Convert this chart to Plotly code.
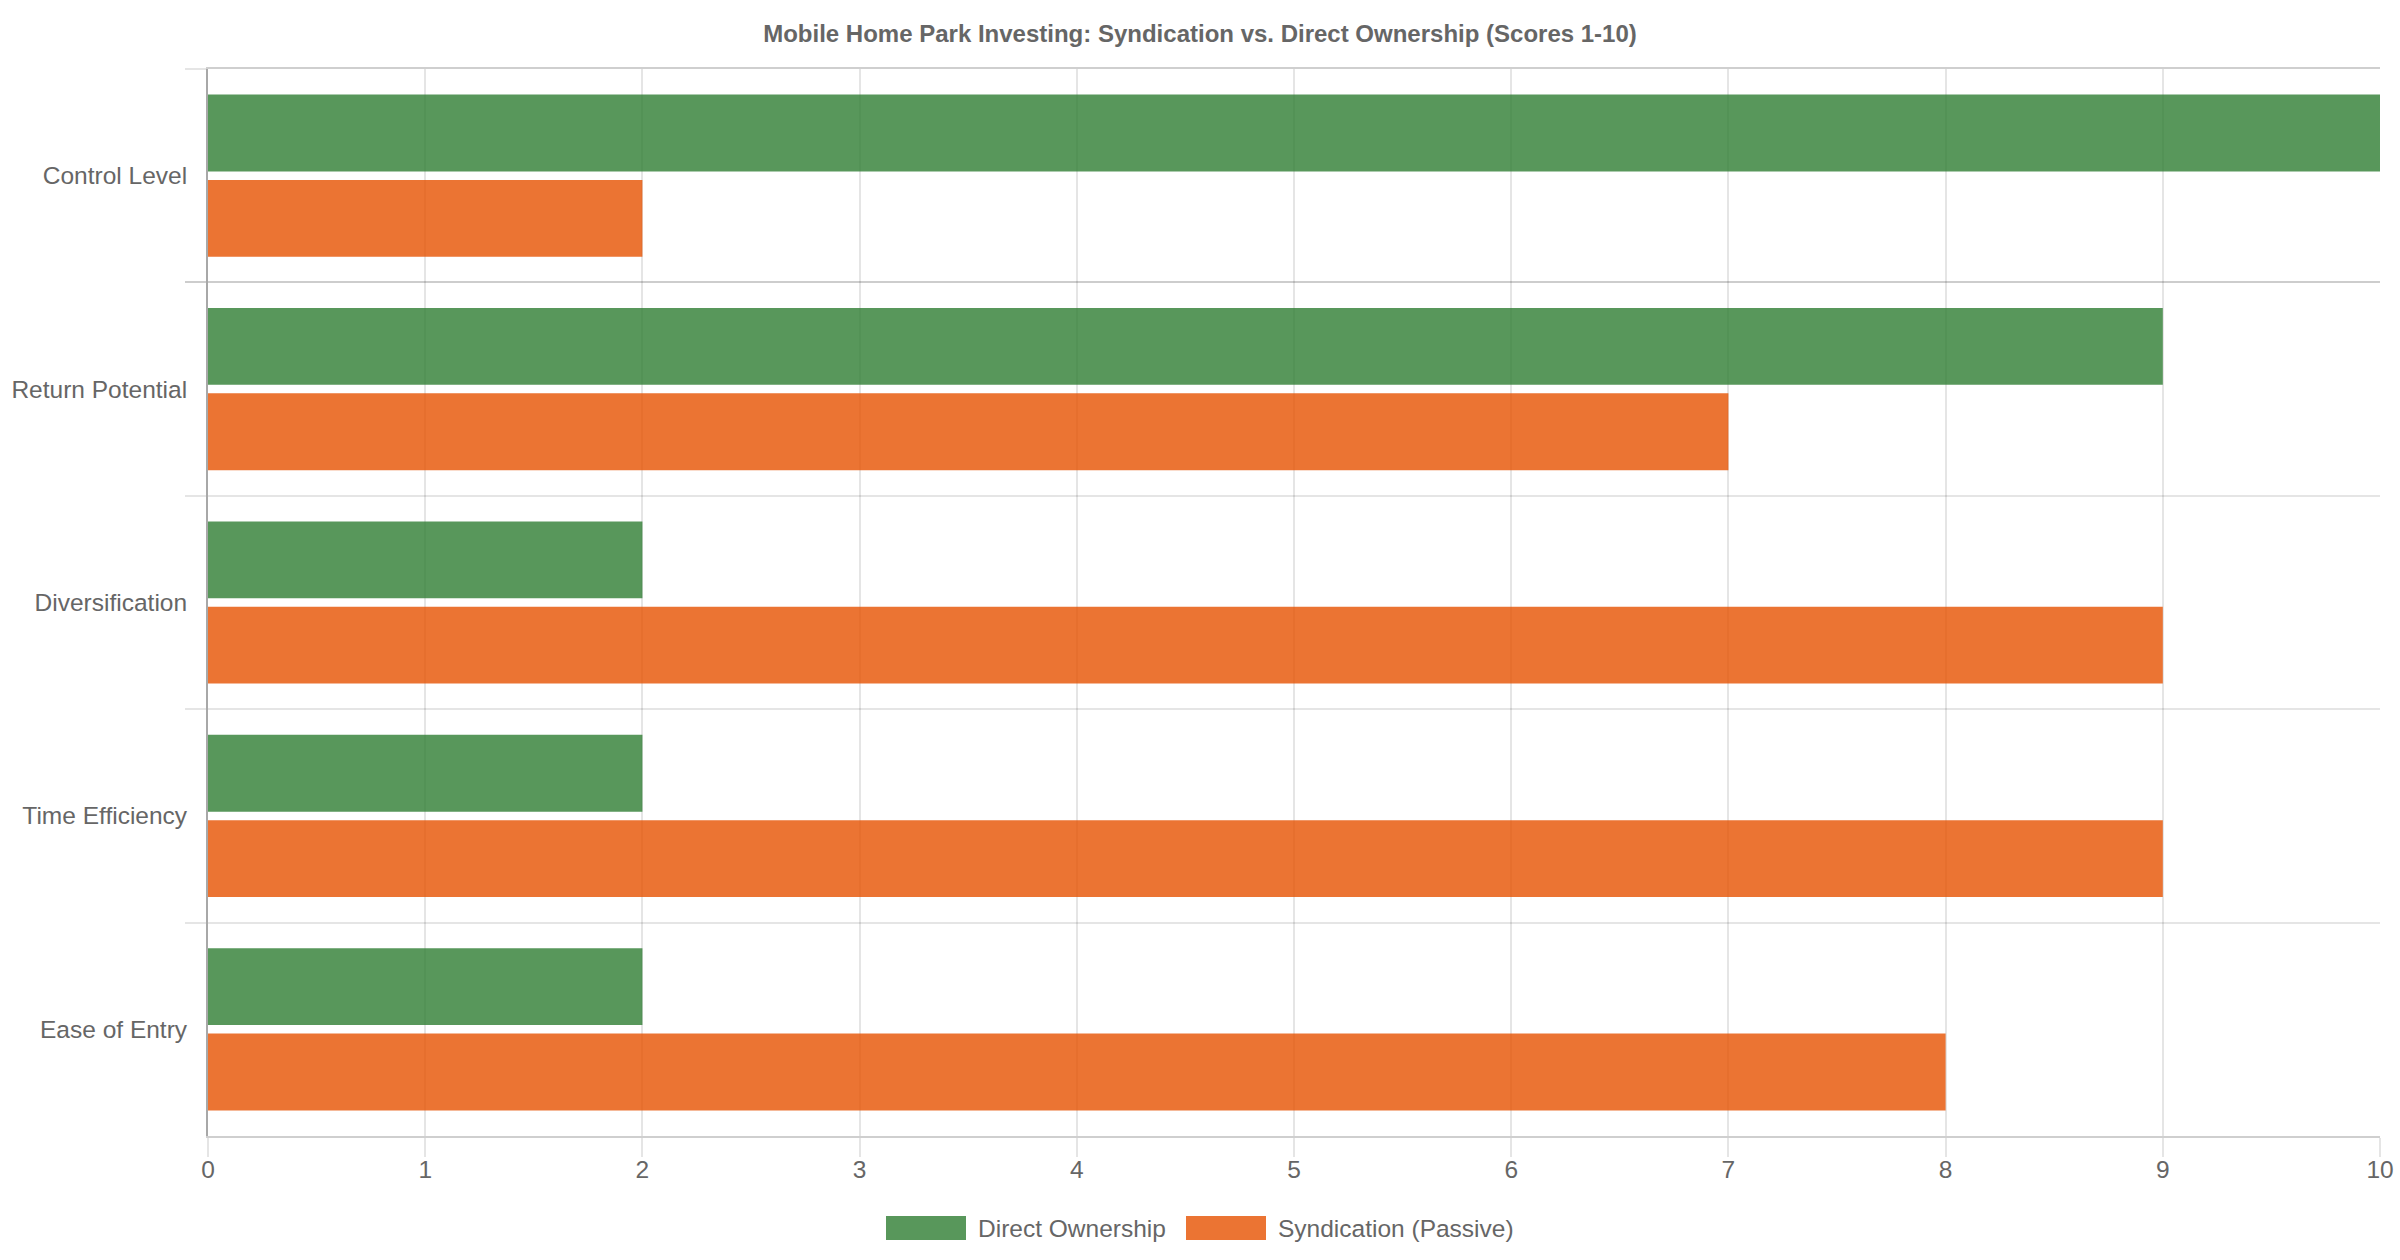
import plotly.graph_objects as go

categories = ["Control Level", "Return Potential", "Diversification", "Time Efficiency", "Ease of Entry"]
direct_scores = [10, 9, 2, 2, 2]
syndication_scores = [2, 7, 9, 9, 8]
series_names = ["Direct Ownership", "Syndication (Passive)"]
x_ticks = list(range(0, 11))

GREEN = "rgba(46,125,50,0.8)"
ORANGE = "rgba(230,81,0,0.8)"
FONT = "Liberation Sans, Arial, Helvetica, sans-serif"
TXT = "#666666"
GRID = "rgba(0,0,0,0.1)"

W, H = 2400, 1260
ML, MR, MT, MB = 208, 20, 69, 124
PW, PH = W - ML - MR, H - MT - MB


def px(xp):
    return (xp - ML) / PW


def py(yp):
    return (H - MB - yp) / PH


fig = go.Figure()
fig.add_trace(go.Bar(
    name=series_names[0], y=categories, x=direct_scores, orientation="h",
    marker=dict(color=GREEN, line=dict(width=0)),
))
fig.add_trace(go.Bar(
    name=series_names[1], y=categories, x=syndication_scores, orientation="h",
    marker=dict(color=ORANGE, line=dict(width=0)),
))

# custom legend (Chart.js style wide boxes)
legend_items = [(series_names[0], GREEN, 886), (series_names[1], ORANGE, 1186)]
for name, col, x0 in legend_items:
    fig.add_shape(type="rect", xref="paper", yref="paper",
                  x0=px(x0), x1=px(x0 + 80), y0=py(1240), y1=py(1216),
                  fillcolor=col, line=dict(width=0))
    fig.add_annotation(xref="paper", yref="paper", x=px(x0 + 90), y=py(1228),
                       xanchor="left", yanchor="middle", showarrow=False,
                       text=name, font=dict(family=FONT, size=24.5, color=TXT))

fig.update_layout(
    width=W, height=H,
    margin=dict(l=ML, r=MR, t=MT, b=MB, autoexpand=False),
    paper_bgcolor="white", plot_bgcolor="white",
    barmode="group", bargap=0.2, bargroupgap=0.1,
    font=dict(family=FONT, size=24.5, color=TXT),
    title=dict(
        text="<b>Mobile Home Park Investing: Syndication vs. Direct Ownership (Scores 1-10)</b>",
        x=0.5, xref="container", xanchor="center",
        y=1 - 34 / H, yref="container", yanchor="middle",
        font=dict(family=FONT, size=24, color=TXT),
    ),
    showlegend=False,
    xaxis=dict(
        range=[0, 10], tickvals=x_ticks, ticktext=[str(v) for v in x_ticks],
        automargin=False,
        showgrid=True, gridcolor=GRID, gridwidth=2,
        zeroline=False,
        showline=True, linecolor="#cfcfcf", linewidth=2, mirror=True,
        ticks="outside", ticklen=19, tickcolor=GRID, tickwidth=2,
        ticklabelstandoff=-8,
        tickfont=dict(family=FONT, size=24.5, color=TXT),
    ),
    yaxis=dict(
        categoryorder="array", categoryarray=categories,
        autorange="reversed", automargin=False,
        tickson="boundaries",
        showgrid=True, gridcolor=GRID, gridwidth=2,
        zeroline=False,
        showline=True, linecolor="#a8a8a8", linewidth=2,
        ticks="outside", ticklen=21, tickcolor=GRID, tickwidth=2,
        ticklabelstandoff=14,
        tickfont=dict(family=FONT, size=24.5, color=TXT),
    ),
)

fig.write_html("out.html")
